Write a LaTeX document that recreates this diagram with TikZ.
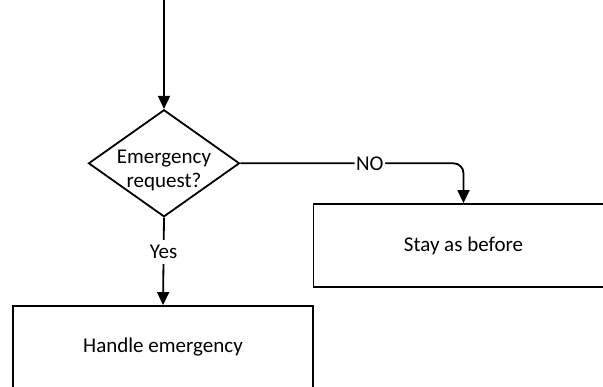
\documentclass[tikz,border=0pt]{standalone}
\usepackage{fontspec}
\setmainfont{Carlito}
\usetikzlibrary{shapes.geometric,arrows.meta}
\begin{document}
\begin{tikzpicture}[x=1pt,y=-1pt,
  line width=1.8pt,
  every node/.style={font=\fontsize{21}{24}\selectfont},
  flow/.style={draw=black,line width=1.8pt,-{Triangle[length=13pt,width=12pt]}},
  decision/.style={shape=diamond,draw,line width=1.8pt,inner sep=0pt,
                   minimum width=151pt,minimum height=107pt},
  process/.style={shape=rectangle,draw,line width=1.8pt,inner sep=0pt,
                  minimum width=300pt,minimum height=83pt},
  edgelabel/.style={fill=white,inner xsep=1.5pt,inner ysep=5pt},
  plain/.style={inner sep=0pt,align=center}]
  \useasboundingbox (0,0) rectangle (603,387);
  \clip (0,0) rectangle (603,387);

  % flowchart elements
  \coordinate (start) at (164,-2);
  \node[decision] (dec) at (164,163.3) {};
  \node[plain] (dectext) at (164,170) {Emergency\\request?};
  \node[process] (stay) at (463.5,245.5) {Stay as before};
  \node[process] (handle) at (163,347.5) {Handle emergency};

  % connectors
  \draw[flow] (start) -- (dec.north);
  \draw[flow,rounded corners=10pt] (dec.east) -| node[edgelabel,pos=0.29] {NO} (stay.north);
  \draw[flow] (dec.south) -- node[edgelabel,pos=0.39] {Yes} (handle.north);
\end{tikzpicture}
\end{document}
